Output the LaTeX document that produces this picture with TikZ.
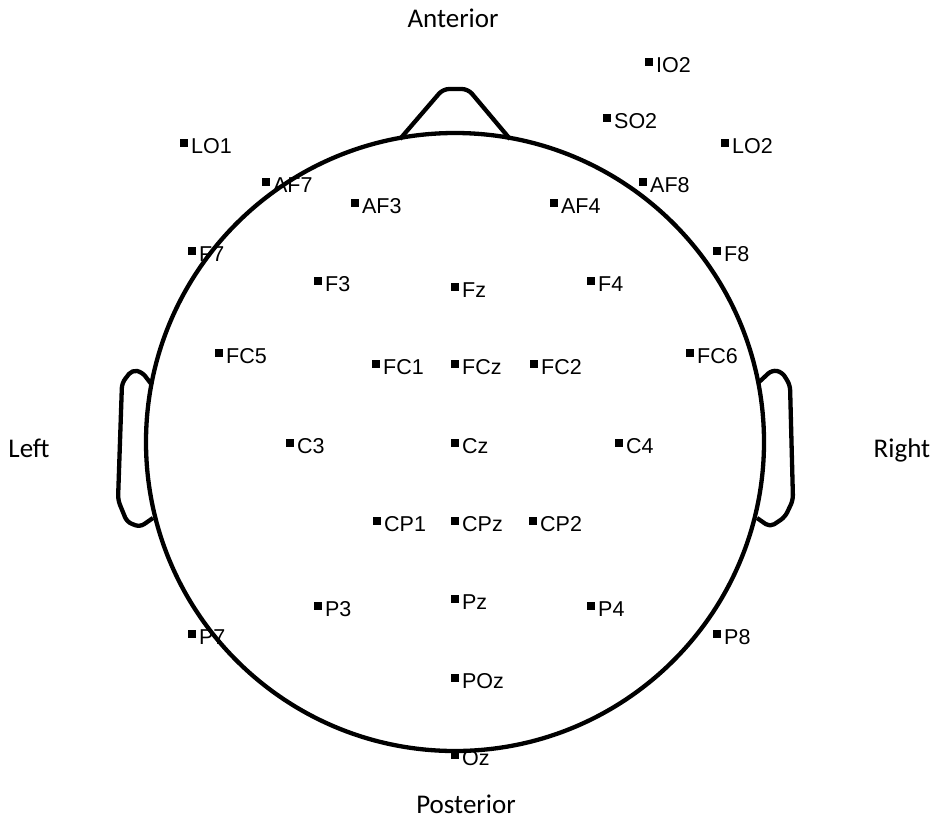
\documentclass[tikz,border=0pt]{standalone}
\usepackage{fontspec}
\newfontfamily\elfont{Liberation Sans}
\newfontfamily\dirfont{Carlito}
\usetikzlibrary{positioning}

\begin{document}
\begin{tikzpicture}[x=1pt, y=-1pt,
    elec/.style={rectangle, fill, inner sep=0pt, minimum size=7.5pt},
    elabel/.style={font=\elfont\fontsize{21.5}{25}\selectfont, inner sep=0pt,
      text height=15.4pt, text depth=0pt},
    dir/.style={font=\dirfont\fontsize{27}{32}\selectfont, inner sep=0pt, anchor=base},
    head/.style={line width=4.3pt, line join=round}]

  \useasboundingbox (0,0) rectangle (936,820);

  % head, nose and ears
  \node[circle, draw, head, minimum size=618pt, inner sep=0pt] (scalp) at (455,442) {};
  \draw[head, rounded corners=6pt] (400,139) -- (443,89) -- (468,89) -- (510,139);
  \draw[head, rounded corners=5pt] (152,385) -- (142,372) -- (132,370) -- (122,383)
    -- (118,500) -- (127,522) -- (140,527) -- (153,518);
  \draw[head, rounded corners=5pt] (758,383) -- (772,370) -- (782,372) -- (790,385)
    -- (793,500) -- (785,517) -- (770,527) -- (757,518);

  % directions
  \node[dir] (ant) at (453,27) {Anterior};
  \node[dir] (post) at (466,813) {Posterior};
  \node[dir] (left) at (29,457) {Left};
  \node[dir] (right) at (902,457) {Right};

  % electrodes
  \foreach \n/\x/\y in {IO2/649/62, SO2/607/118, LO1/184/143, LO2/725/143,
      AF7/266/182, AF8/643/182, AF3/355/203, AF4/554/203,
      F7/192/251, F8/717/251, F3/318/281, Fz/455/287, F4/591/281,
      FC5/219/353, FC1/376/364, FCz/455/364, FC2/534/364, FC6/690/353,
      C3/290/443, Cz/455/443, C4/619/443,
      CP1/377/521, CPz/455/521, CP2/533/521,
      P3/318/606, Pz/455/599, P4/591/606, P7/192/634, P8/717/634,
      POz/455/678, Oz/455/755} {
    \node[elec] (\n) at (\x,\y) {};
    \node[elabel, right=3pt of \n, yshift=-2.3pt] (\n-txt) {\n};
  }
\end{tikzpicture}
\end{document}
